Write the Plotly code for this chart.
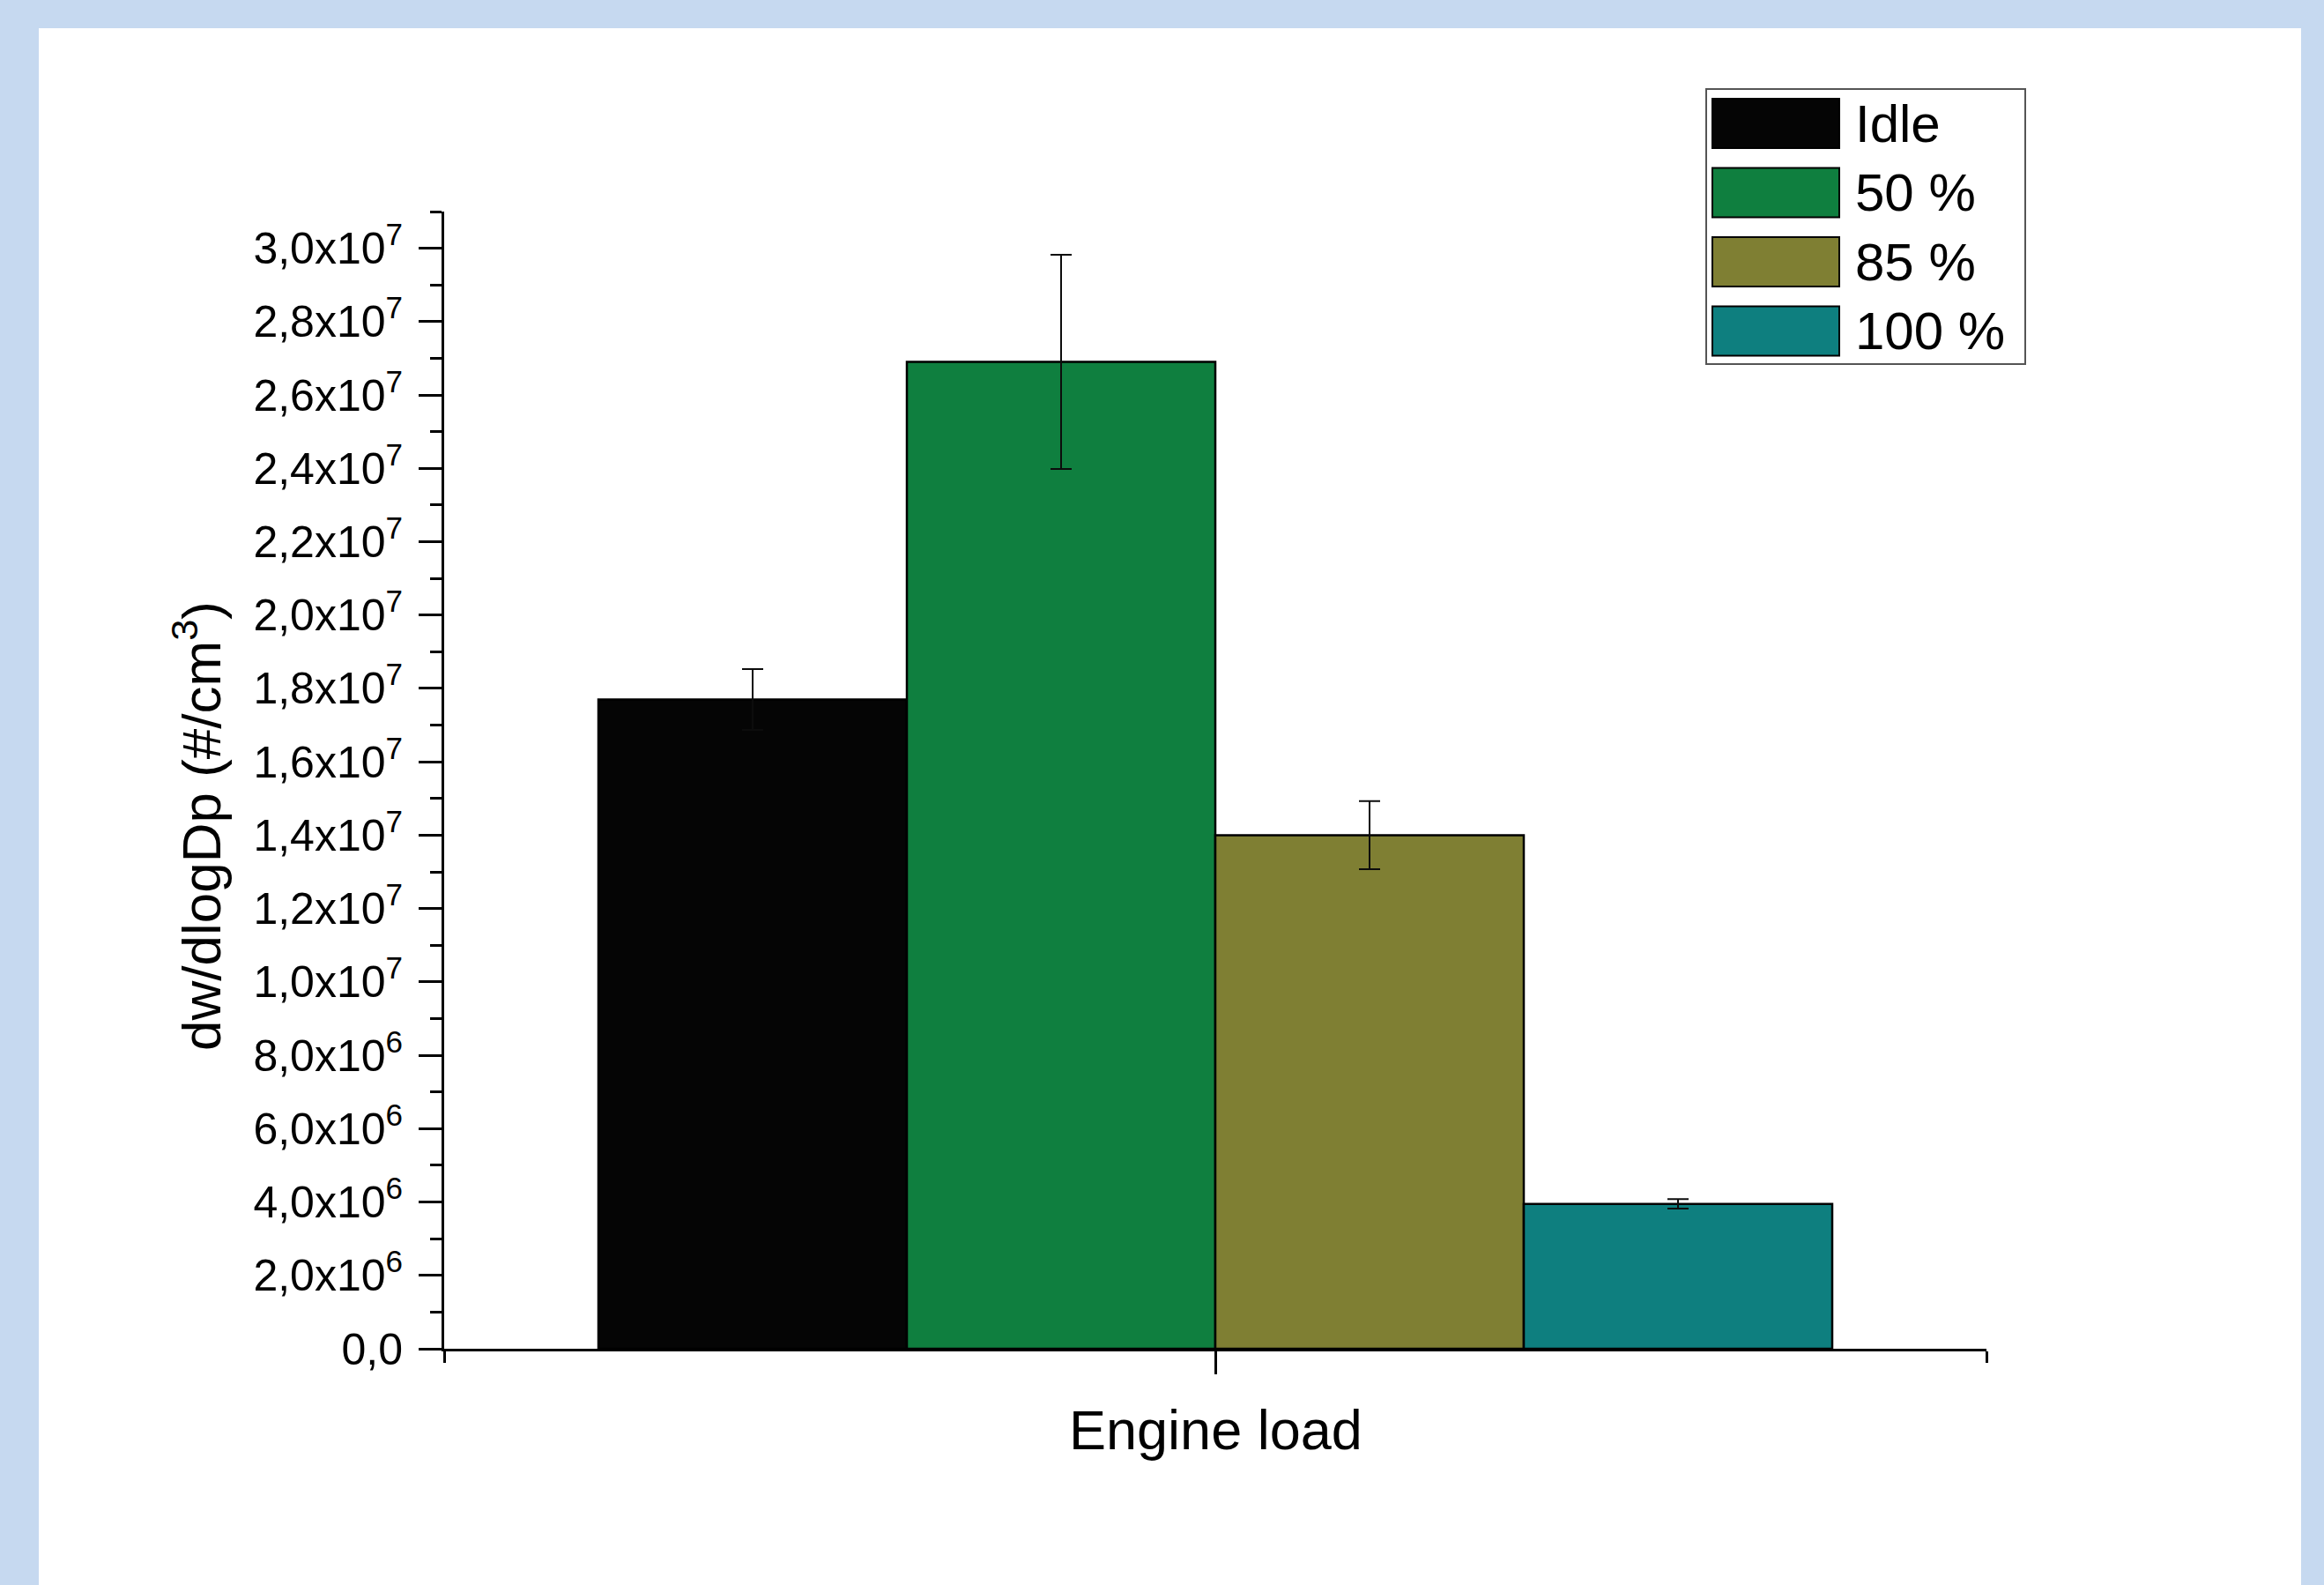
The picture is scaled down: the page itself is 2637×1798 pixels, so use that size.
import plotly.graph_objects as go

# Particle number concentration per engine load (mean and standard deviation)
loads = ["Idle", "50 %", "85 %", "100 %"]
means = [1.77e7, 2.69e7, 1.40e7, 3.95e6]
errors = [8.3e5, 2.92e6, 9.3e5, 1.3e5]
colors = ["#050505", "#0F7F3F", "#7F7F33", "#0E7F7F"]

x_title = "Engine load"
y_title = "dw/dlogDp (#/cm<sup>3</sup>)"

y_tickvals = [0, 2e6, 4e6, 6e6, 8e6, 1.0e7, 1.2e7, 1.4e7, 1.6e7,
              1.8e7, 2.0e7, 2.2e7, 2.4e7, 2.6e7, 2.8e7, 3.0e7]
y_ticktext = ["0,0", "2,0x10<sup>6</sup>", "4,0x10<sup>6</sup>",
              "6,0x10<sup>6</sup>", "8,0x10<sup>6</sup>",
              "1,0x10<sup>7</sup>", "1,2x10<sup>7</sup>",
              "1,4x10<sup>7</sup>", "1,6x10<sup>7</sup>",
              "1,8x10<sup>7</sup>", "2,0x10<sup>7</sup>",
              "2,2x10<sup>7</sup>", "2,4x10<sup>7</sup>",
              "2,6x10<sup>7</sup>", "2,8x10<sup>7</sup>",
              "3,0x10<sup>7</sup>"]

W, H = 2637, 1798
L, R, T, B = 504, 383, 240, 268
PW, PH = W - L - R, H - T - B
FONT = "Liberation Sans, Arial, sans-serif"


def fx(px):
    """Pixel column -> paper x."""
    return (px - L) / PW


def fy(py):
    """Pixel row -> paper y."""
    return (H - B - py) / PH


fig = go.Figure()
for name, m, e, c in zip(loads, means, errors, colors):
    fig.add_trace(go.Bar(
        x=[0], y=[m], name=name,
        marker=dict(color=c, line=dict(color="#000000", width=2.5)),
        error_y=dict(type="data", array=[e], visible=True,
                     thickness=2, width=12, color="#0C0C0C"),
        showlegend=False,
    ))

shapes = [
    # white card on the light-blue page
    dict(type="rect", xref="paper", yref="paper",
         x0=fx(44), x1=fx(2611), y0=fy(1798), y1=fy(32),
         fillcolor="#FFFFFF", line=dict(width=0), layer="below"),
    # legend frame
    dict(type="rect", xref="paper", yref="paper",
         x0=fx(1936), x1=fx(2298), y0=fy(413), y1=fy(101),
         fillcolor="#FFFFFF", line=dict(color="#555555", width=2)),
]
annotations = []
for i, (name, c) in enumerate(zip(loads, colors)):
    cy = 140 + 78.5 * i
    shapes.append(dict(type="rect", xref="paper", yref="paper",
                       x0=fx(1943), x1=fx(2087),
                       y0=fy(cy + 28), y1=fy(cy - 28),
                       fillcolor=c, line=dict(color="#000000", width=2)))
    annotations.append(dict(xref="paper", yref="paper", x=fx(2103), y=fy(cy),
                            xanchor="left", yanchor="middle", showarrow=False,
                            text=name, font=dict(family=FONT, size=60, color="#000000")))

annotations.append(dict(xref="paper", yref="paper", x=fx(224), y=fy(937),
                        xanchor="center", yanchor="middle", showarrow=False,
                        textangle=-90, text=y_title,
                        font=dict(family=FONT, size=62, color="#000000")))
annotations.append(dict(xref="paper", yref="paper", x=0.5, y=fy(1622),
                        xanchor="center", yanchor="middle", showarrow=False,
                        text=x_title,
                        font=dict(family=FONT, size=63, color="#000000")))

fig.update_layout(
    width=W, height=H, autosize=False,
    margin=dict(l=L, r=R, t=T, b=B, pad=0),
    paper_bgcolor="#C6D9F0",
    plot_bgcolor="#FFFFFF",
    barmode="group", bargap=0.2, bargroupgap=0,
    font=dict(family=FONT, color="#000000"),
    shapes=shapes,
    annotations=annotations,
    xaxis=dict(
        range=[-0.5, 0.5], showgrid=False, zeroline=False,
        showline=True, linecolor="#000000", linewidth=3,
        ticks="outside", tickvals=[0], ticklen=26, tickwidth=3,
        tickcolor="#000000", showticklabels=False,
        minor=dict(tick0=-0.5, dtick=1, ticks="outside", ticklen=13,
                   tickwidth=3, tickcolor="#000000"),
    ),
    yaxis=dict(
        range=[0, 3.1e7], showgrid=False, zeroline=False,
        showline=True, linecolor="#000000", linewidth=3,
        ticks="outside", tickmode="array", tickvals=y_tickvals,
        ticktext=y_ticktext, ticklen=26, tickwidth=3, tickcolor="#000000",
        tickfont=dict(family=FONT, size=50, color="#000000"),
        ticklabelstandoff=8,
        minor=dict(tick0=0, dtick=1e6, ticks="outside", ticklen=13,
                   tickwidth=3, tickcolor="#000000"),
    ),
)

fig.write_html("out.html")
